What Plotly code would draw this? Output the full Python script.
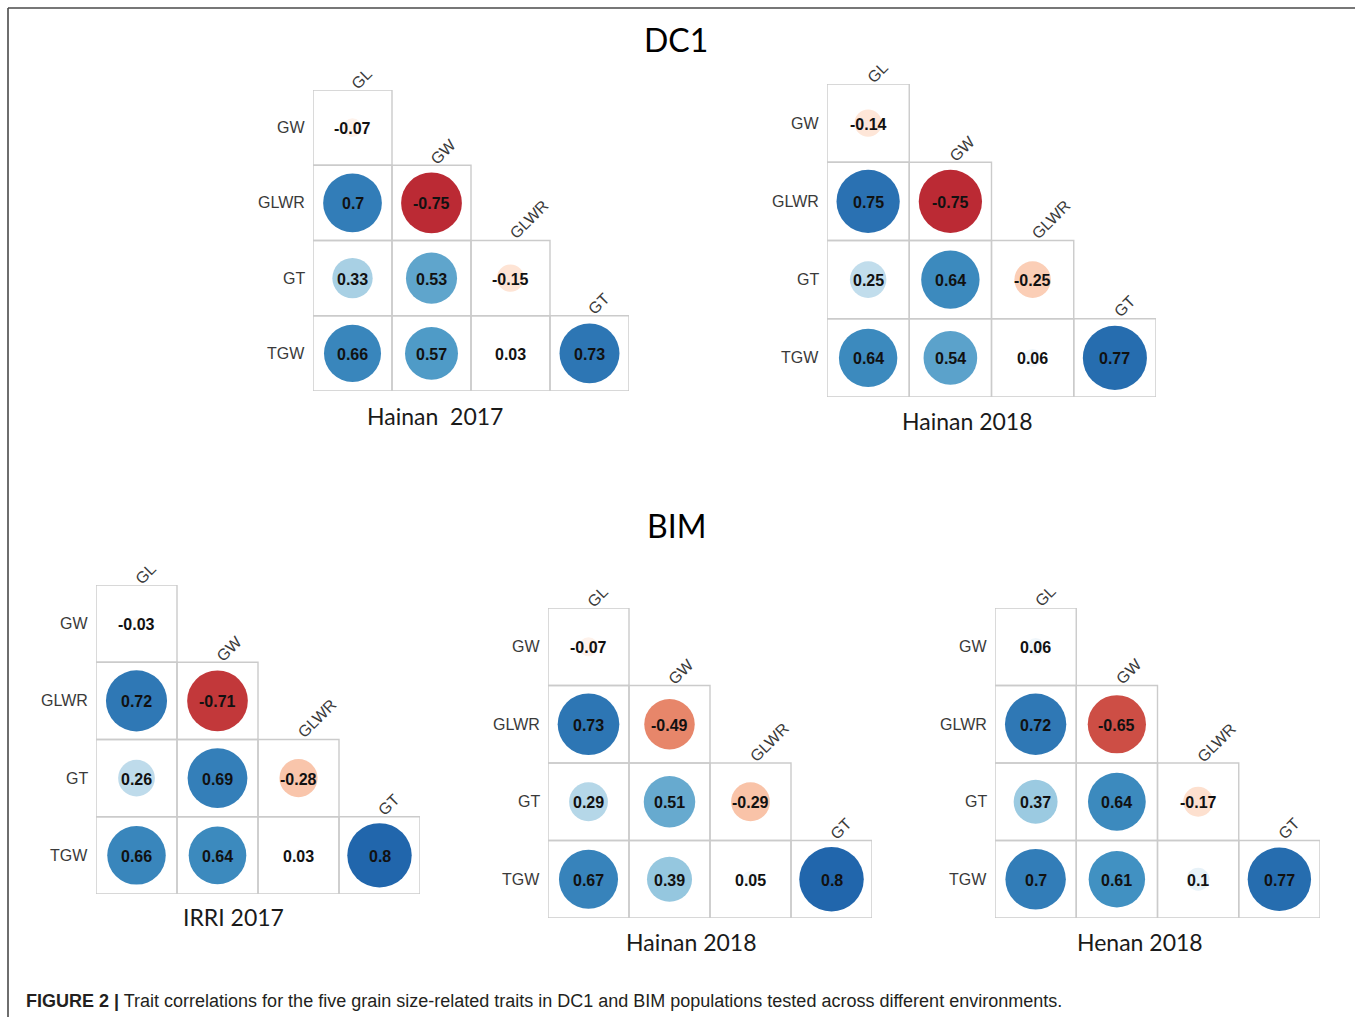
import math
import plotly.graph_objects as go

# Trait names (rows of the lower triangle, then columns)
ROWS = ["GW", "GLWR", "GT", "TGW"]
COLS = ["GL", "GW", "GLWR", "GT"]

# Pearson correlations, lower triangle, row by row
dc1_hainan_2017 = [[-0.07], [0.70, -0.75], [0.33, 0.53, -0.15], [0.66, 0.57, 0.03, 0.73]]
dc1_hainan_2018 = [[-0.14], [0.75, -0.75], [0.25, 0.64, -0.25], [0.64, 0.54, 0.06, 0.77]]
bim_irri_2017 = [[-0.03], [0.72, -0.71], [0.26, 0.69, -0.28], [0.66, 0.64, 0.03, 0.80]]
bim_hainan_2018 = [[-0.07], [0.73, -0.49], [0.29, 0.51, -0.29], [0.67, 0.39, 0.05, 0.80]]
bim_henan_2018 = [[0.06], [0.72, -0.65], [0.37, 0.64, -0.17], [0.70, 0.61, 0.10, 0.77]]

PANEL_TITLES = ["Hainan  2017", "Hainan 2018", "IRRI 2017", "Hainan 2018", "Henan 2018"]
GROUP_TITLES = ["DC1", "BIM"]
CAPTION_BOLD = "FIGURE 2 |"
CAPTION = ("Trait correlations for the five grain size-related traits in DC1 and BIM "
           "populations tested across different environments.")

W, H = 1355, 1017

# grid boxes in pixels: (left, right, top, bottom), subtitle centre (x, y)
BOXES = [
    (313, 629, 90, 391, 435, 416),
    (827, 1156, 84, 397, 967, 421),
    (96, 420, 585, 894, 233, 917),
    (548, 872, 608, 918, 691, 942),
    (995, 1320, 608, 918, 1140, 942),
]
PANELS = [dc1_hainan_2017, dc1_hainan_2018, bim_irri_2017, bim_hainan_2018, bim_henan_2018]

# corrplot RdBu ramp, white at zero
RDBU = ["#67001F", "#B2182B", "#D6604D", "#F4A582", "#FDDBC7", "#FFFFFF",
        "#D1E5F0", "#92C5DE", "#4393C3", "#2166AC", "#053061"]
colorscale = [[i / 10, c] for i, c in enumerate(RDBU)]

ARIAL = "Liberation Sans, Arial, sans-serif"
CALIBRI = "Lato, Open Sans, sans-serif"


def px_x(p):
    return p / W


def px_y(p):
    return 1 - p / H


fig = go.Figure()
layout = dict(shapes=[], annotations=[])

for k, (mat, box, title) in enumerate(zip(PANELS, BOXES, PANEL_TITLES), start=1):
    left, right, top, bottom, tx, ty = box
    xa, ya = f"x{k}", f"y{k}"
    layout[f"xaxis{k}"] = dict(domain=[px_x(left), px_x(right)], range=[0.5, 4.5],
                               visible=False, fixedrange=True, anchor=ya)
    layout[f"yaxis{k}"] = dict(domain=[px_y(bottom), px_y(top)], range=[4.5, 0.5],
                               visible=False, fixedrange=True, anchor=xa)

    cell_w = (right - left) / 4
    cell_h = (bottom - top) / 4
    full_d = 0.91 * (cell_w + cell_h) / 2

    xs, ys, vals, sizes = [], [], [], []
    for i, row in enumerate(mat):
        for j, v in enumerate(row):
            xs.append(j + 1)
            ys.append(i + 1)
            vals.append(v)
            sizes.append(full_d * math.sqrt(abs(v)))
            layout["shapes"].append(dict(
                type="rect", xref=xa, yref=ya, x0=j + 0.5, x1=j + 1.5,
                y0=i + 0.5, y1=i + 1.5, layer="below",
                line=dict(color="#CBCBCB", width=1.4), fillcolor="rgba(0,0,0,0)"))
            # coefficient printed on the circle
            layout["annotations"].append(dict(
                xref=xa, yref=ya, x=j + 1, y=i + 1, text=f"<b>{v:g}</b>",
                showarrow=False, xanchor="center", yanchor="middle", yshift=-1,
                font=dict(family=ARIAL, size=16, color="#111111")))

    fig.add_trace(go.Scatter(
        x=xs, y=ys, xaxis=xa, yaxis=ya, mode="markers",
        marker=dict(size=sizes, color=vals, colorscale=colorscale, cmin=-1, cmax=1,
                    line=dict(width=0), opacity=1),
        showlegend=False, hoverinfo="skip"))

    # row labels
    for i, name in enumerate(ROWS):
        layout["annotations"].append(dict(
            xref=xa, yref=ya, x=0.5, y=i + 1, text=name, showarrow=False,
            xanchor="right", yanchor="middle", xshift=-6,
            font=dict(family=ARIAL, size=16, color="#3A3A3A")))
    # slanted column labels on top of each column
    for j, name in enumerate(COLS):
        layout["annotations"].append(dict(
            xref=xa, yref=ya, x=j + 1, y=j + 0.5, text=name, showarrow=False,
            xanchor="left", yanchor="bottom", textangle=-45,
            xshift=-4, yshift=-2, borderpad=0, borderwidth=0,
            font=dict(family=ARIAL, size=16, color="#3A3A3A")))
    # panel subtitle
    layout["annotations"].append(dict(
        xref="paper", yref="paper", x=px_x(tx), y=px_y(ty), text=title,
        showarrow=False, xanchor="center", yanchor="middle",
        font=dict(family=CALIBRI, size=23, color="#1A1A1A")))

# population headings
for name, (cx, cy) in zip(GROUP_TITLES, [(676, 40), (676, 525)]):
    layout["annotations"].append(dict(
        xref="paper", yref="paper", x=px_x(cx), y=px_y(cy), text=name,
        showarrow=False, xanchor="center", yanchor="middle",
        font=dict(family=CALIBRI, size=32, color="#000000")))

# caption
layout["annotations"].append(dict(
    xref="paper", yref="paper", x=px_x(24), y=px_y(1001),
    text=f"<b>{CAPTION_BOLD}</b> {CAPTION}", showarrow=False,
    xanchor="left", yanchor="middle",
    font=dict(family=ARIAL, size=18, color="#231F20")))

# frame lines along the top and left edges
layout["shapes"].append(dict(type="line", xref="paper", yref="paper",
                             x0=px_x(8), x1=1, y0=px_y(8), y1=px_y(8),
                             line=dict(color="#4A4A4A", width=1.6)))
layout["shapes"].append(dict(type="line", xref="paper", yref="paper",
                             x0=px_x(8), x1=px_x(8), y0=px_y(8), y1=0,
                             line=dict(color="#4A4A4A", width=1.6)))

fig.update_layout(
    width=W, height=H, margin=dict(l=0, r=0, t=0, b=0),
    paper_bgcolor="white", plot_bgcolor="rgba(0,0,0,0)",
    showlegend=False, **layout)

fig.write_html("out.html", config={"displayModeBar": False})
